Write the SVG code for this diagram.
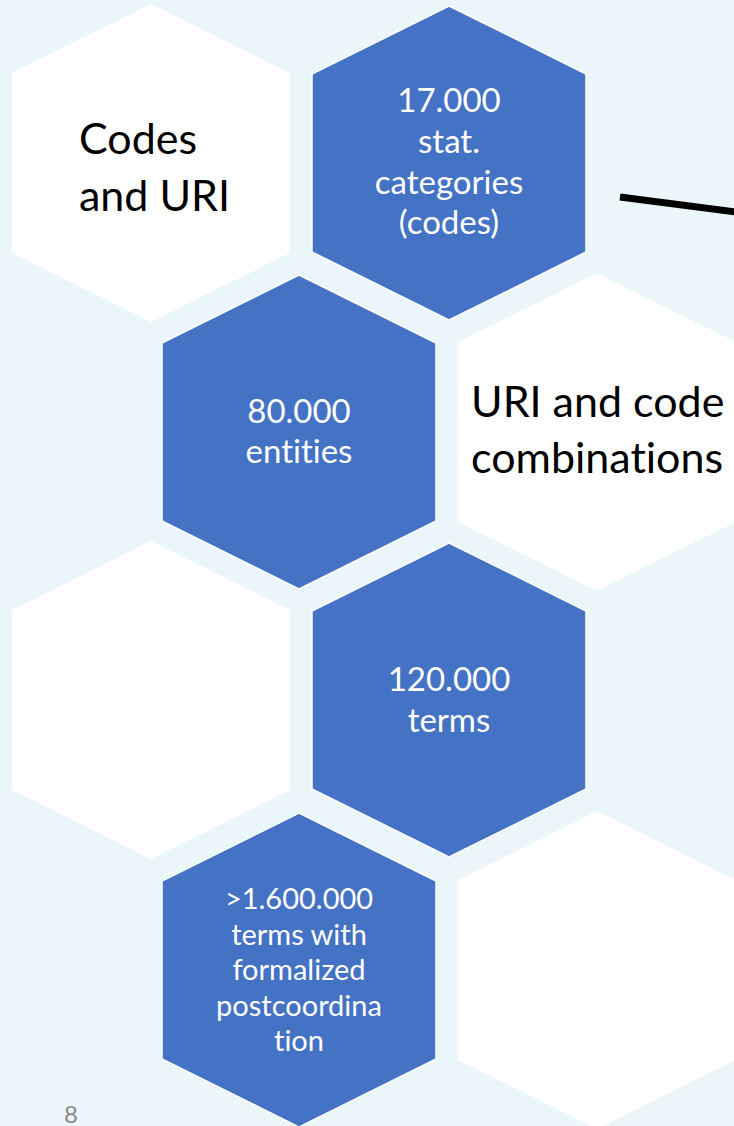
<svg xmlns="http://www.w3.org/2000/svg" width="734" height="1126" viewBox="0 0 734 1126">
  <style>
    .bg { fill: #EBF6FA; }
    .hw { fill: #FFFFFF; }
    .hb { fill: #4472C4; stroke: #FFFFFF; stroke-width: 1.5; }
    text { font-variant-ligatures: none; font-feature-settings: "liga" 0, "clig" 0; }
    .tb { font-family: Lato, "Open Sans", sans-serif; fill: #000000; font-size: 43px; }
    .tw { font-family: Lato, "Open Sans", sans-serif; fill: #FFFFFF; text-anchor: middle; font-size: 33px; }
    .ts { font-size: 29px; }
    .pg { font-family: Lato, "Open Sans", sans-serif; fill: #8A8A8A; font-size: 24px; text-anchor: middle; }
    .conn { stroke: #000000; stroke-width: 7; fill: none; }
  </style>
  <defs>
    <path id="hex" d="M0,-159 L139,-90 L139,90 L0,159 L-139,90 L-139,-90 Z"/>
    <path id="hexb" d="M0,-157 L137,-89 L137,89 L0,157 L-137,89 L-137,-89 Z"/>
  </defs>
  <rect class="bg" x="0" y="0" width="734" height="1126"/>

  <g id="hex-codes-uri">
    <use href="#hex" class="hw" x="151" y="163"/>
    <text class="tb" x="79" y="154">Codes</text>
    <text class="tb" x="79" y="211">and URI</text>
  </g>
  <g id="hex-17000">
    <use href="#hexb" class="hb" x="449" y="163"/>
    <text class="tw" x="449" y="112">17.000</text>
    <text class="tw" x="449" y="153">stat.</text>
    <text class="tw" x="449" y="194">categories</text>
    <text class="tw" x="449" y="234">(codes)</text>
  </g>
  <g id="hex-80000">
    <use href="#hexb" class="hb" x="299" y="432"/>
    <text class="tw" x="299" y="423">80.000</text>
    <text class="tw" x="299" y="463">entities</text>
  </g>
  <g id="hex-uri-code">
    <use href="#hex" class="hw" x="597" y="432"/>
    <text class="tb" x="471" y="417">URI and code</text>
    <text class="tb" x="471" y="473">combinations</text>
  </g>
  <g id="hex-empty-left">
    <use href="#hex" class="hw" x="151" y="700"/>
  </g>
  <g id="hex-120000">
    <use href="#hexb" class="hb" x="449" y="700"/>
    <text class="tw" x="449" y="691">120.000</text>
    <text class="tw" x="449" y="732">terms</text>
  </g>
  <g id="hex-1600000">
    <use href="#hexb" class="hb" x="299" y="970"/>
    <text class="tw ts" x="299" y="909">&gt;1.600.000</text>
    <text class="tw ts" x="299" y="945">terms with</text>
    <text class="tw ts" x="299" y="980">formalized</text>
    <text class="tw ts" x="299" y="1016">postcoordina</text>
    <text class="tw ts" x="299" y="1051">tion</text>
  </g>
  <g id="hex-empty-right">
    <use href="#hex" class="hw" x="597" y="970"/>
  </g>

  <g id="connectors">
    <line class="conn" x1="620" y1="197" x2="736" y2="212"/>
  </g>

  <text class="pg" x="71" y="1123">8</text>
</svg>
